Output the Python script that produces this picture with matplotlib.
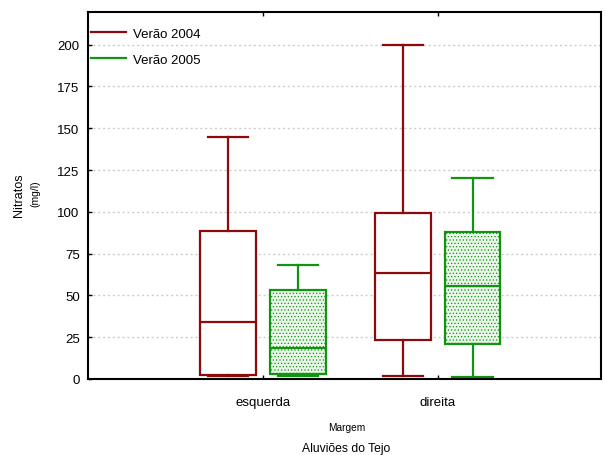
import matplotlib
matplotlib.use("Agg")
import matplotlib.pyplot as plt
from matplotlib.lines import Line2D

plt.rcParams['font.family'] = ['Liberation Sans', 'DejaVu Sans']
plt.rcParams['hatch.color'] = '#d2e9d2'
plt.rcParams['hatch.linewidth'] = 0.5

categories = ["esquerda", "direita"]
series = ["Verão 2004", "Verão 2005"]
mins_2004 = [2, 2]
q1_2004 = [2.5, 23.5]
med_2004 = [34, 63.5]
q3_2004 = [88.5, 99.5]
max_2004 = [144.5, 200]
mins_2005 = [1.5, 1.2]
q1_2005 = [2.8, 21]
med_2005 = [18.3, 55.8]
q3_2005 = [53.5, 88.2]
max_2005 = [68, 120.5]
yticks = [0, 25, 50, 75, 100, 125, 150, 175, 200]

c2004 = '#8b0a0a'
c2005 = '#129312'

fig = plt.figure(figsize=(6.05, 4.56), dpi=100)
ax = fig.add_axes([88/605, 1-380/456, (601-88)/605, (380-13)/456])

def stats(mn, q1, md, q3, mx):
    return [dict(whislo=a, q1=b, med=c, q3=d, whishi=e, fliers=[])
            for a, b, c, d, e in zip(mn, q1, md, q3, mx)]

pos = [i + 1 for i in range(len(categories))]
lw = 1.6
ax.bxp(stats(mins_2004, q1_2004, med_2004, q3_2004, max_2004),
       positions=[p - 0.2 for p in pos], widths=0.32, patch_artist=True,
       showfliers=False, manage_ticks=False,
       boxprops=dict(facecolor='white', edgecolor=c2004, linewidth=lw),
       medianprops=dict(color=c2004, linewidth=lw),
       whiskerprops=dict(color=c2004, linewidth=lw),
       capprops=dict(color=c2004, linewidth=lw), capwidths=0.23)
ax.bxp(stats(mins_2005, q1_2005, med_2005, q3_2005, max_2005),
       positions=[p + 0.2 for p in pos], widths=0.32, patch_artist=True,
       showfliers=False, manage_ticks=False,
       boxprops=dict(facecolor='#e9f5e9', edgecolor=c2005, linewidth=lw, hatch='.....'),
       medianprops=dict(color=c2005, linewidth=lw),
       whiskerprops=dict(color=c2005, linewidth=lw),
       capprops=dict(color=c2005, linewidth=lw), capwidths=0.23)

ax.set_xlim(0, 2.935)
ax.set_ylim(0, 219.5)
ax.set_yticks(yticks)
ax.set_xticks(pos)
ax.set_xticklabels(categories, fontsize=9.5)
ax.tick_params(axis='y', labelsize=9.5, direction='in', length=3, width=1, pad=6)
ax.tick_params(axis='x', direction='in', length=3, width=1, pad=12.5, top=True)
ax.yaxis.grid(True, linestyle=(0, (1.5, 2)), color='#cccccc', linewidth=1)
ax.set_axisbelow(True)
for s in ax.spines.values():
    s.set_linewidth(1.5)

handles = [Line2D([], [], color=c2004, linewidth=lw),
           Line2D([], [], color=c2005, linewidth=lw)]
ax.legend(handles, series, loc='upper left', bbox_to_anchor=(0.0, 0.965),
          frameon=False, fontsize=9.5, handlelength=2.65, handletextpad=0.55,
          labelspacing=1.05, borderaxespad=0.1, borderpad=0.1)

fig.text(19/605, 1-195/456, "Nitratos", rotation=90, ha='center', va='center', fontsize=9)
fig.text(35/605, 1-194/456, "(mg/l)", rotation=90, ha='center', va='center', fontsize=7.5)
fig.text(347/605, 1-428/456, "Margem", ha='center', va='center', fontsize=7.3)
fig.text(346/605, 1-449/456, "Aluviões do Tejo", ha='center', va='center', fontsize=8.7)

fig.savefig("out.png", dpi=100)
